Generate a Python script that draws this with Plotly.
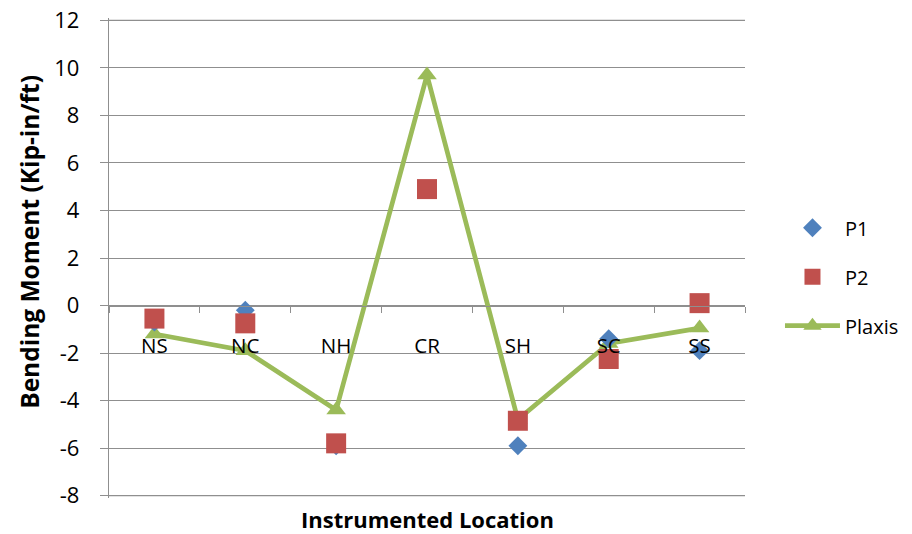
import plotly.graph_objects as go

# Instrumented locations along the culvert
locations = ["NS", "NC", "NH", "CR", "SH", "SC", "SS"]

# Bending moment (Kip-in/ft)
p1_moment = [-0.7, -0.2, -5.9, None, -5.9, -1.4, -1.9]
p2_moment = [-0.55, -0.75, -5.8, 4.9, -4.85, -2.25, 0.1]
plaxis_moment = [-1.2, -1.9, -4.4, 9.7, -4.8, -1.6, -0.95]

y_ticks = list(range(-8, 13, 2))
y_tick_text = [str(v) for v in y_ticks]
y_range = [-8.1, 12.1]
# fraction of the plot height where the category axis crosses zero
zero_frac = (0 - y_range[0]) / (y_range[1] - y_range[0])

GRID = "#8f8f8f"
FONT = "Open Sans"

fig = go.Figure()

fig.add_trace(go.Scatter(
    x=locations, y=plaxis_moment, name="Plaxis", mode="lines+markers",
    line=dict(color="#9BBB59", width=4.7),
    marker=dict(symbol="triangle-up", size=17, color="#9BBB59"),
    legendrank=3, legendgroup="c",
))
fig.add_trace(go.Scatter(
    x=locations, y=p1_moment, name="P1", mode="markers",
    marker=dict(symbol="diamond", size=14.5, color="#4F81BD"),
    legendrank=1, legendgroup="a",
))
fig.add_trace(go.Scatter(
    x=locations, y=p2_moment, name="P2", mode="markers",
    marker=dict(symbol="square", size=20, color="#C0504D"),
    legendrank=2, legendgroup="b",
))

# outer gridlines at the first and last tick values
edge_lines = [
    dict(type="line", xref="paper", yref="y", x0=0, x1=1, y0=v, y1=v,
         line=dict(color=GRID, width=1.3), layer="below")
    for v in (y_ticks[0], y_ticks[-1])
]

fig.update_layout(
    width=912, height=534,
    margin=dict(l=109, r=167, t=18, b=36, autoexpand=False),
    paper_bgcolor="white", plot_bgcolor="white",
    font=dict(family=FONT, size=20, color="black"),
    showlegend=True,
    legend=dict(x=1.055, xanchor="left", y=0.461, yanchor="middle",
                tracegroupgap=20, itemwidth=55, font=dict(size=20),
                bgcolor="rgba(0,0,0,0)"),
    xaxis=dict(
        type="category", anchor="free", position=zero_frac,
        range=[-0.5, 6.5], showline=True, linecolor=GRID, linewidth=1.3,
        showgrid=False, zeroline=False, tickson="boundaries",
        ticks="outside", ticklen=6, tickcolor=GRID, tickwidth=1.3,
        ticklabelstandoff=22, layer="above traces",
        tickfont=dict(size=20.5), automargin=False,
    ),
    yaxis=dict(
        range=y_range, tickvals=y_ticks, ticktext=y_tick_text,
        showgrid=True, gridcolor=GRID,
        gridwidth=1.3, zeroline=False, showline=True, linecolor=GRID,
        linewidth=1.3, ticks="outside", ticklen=8, tickcolor=GRID,
        tickwidth=1.3, ticklabelstandoff=16, tickfont=dict(size=22),
        automargin=False,
    ),
    shapes=edge_lines,
    annotations=[
        dict(text="<b>Instrumented Location</b>", xref="paper", yref="paper",
             x=0.5, y=-0.044, xanchor="center", yanchor="middle",
             showarrow=False, font=dict(size=22)),
        dict(text="<b>Bending Moment (Kip-in/ft)</b>", xref="paper",
             yref="paper", x=-0.124, y=0.534, xanchor="center",
             yanchor="middle", textangle=-90, showarrow=False,
             font=dict(size=24.5)),
    ],
)

fig.write_html("out.html")
